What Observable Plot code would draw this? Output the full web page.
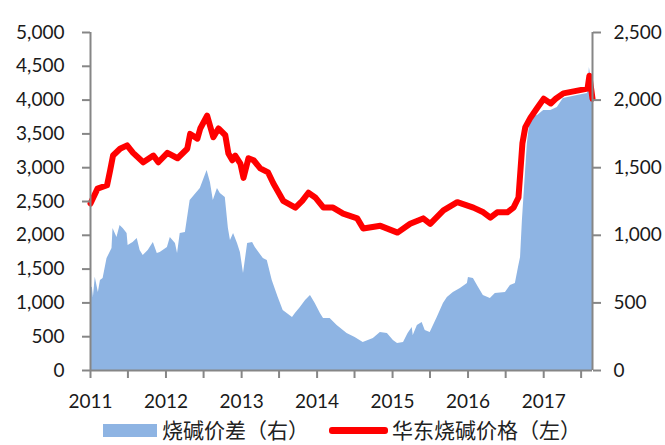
<!DOCTYPE html>
<html><head><meta charset="utf-8">
<script src="https://cdn.jsdelivr.net/npm/d3@7"></script>
<script src="https://cdn.jsdelivr.net/npm/@observablehq/plot@0.6"></script>
<style>
body{margin:0;background:#fff;}
#wrap{position:relative;width:665px;height:445px;}
#legend{position:absolute;left:0;top:413px;width:665px;height:32px;font-family:"Noto Sans CJK SC",sans-serif;font-size:21px;color:#222;}
.sw{position:absolute;}
.lt{position:absolute;top:1px;height:31px;line-height:31px;white-space:nowrap;}
</style></head><body>
<div id="wrap"><div id="chart"></div>
<div id="legend">
  <div class="sw" style="left:103px;top:11px;width:54px;height:13px;background:#8EB4E3"></div>
  <div class="lt" style="left:162px">烧碱价差（右）</div>
  <div class="sw" style="left:329px;top:14px;width:59px;height:7px;background:#FF0000;border-radius:3px"></div>
  <div class="lt" style="left:392px">华东烧碱价格（左）</div>
</div></div>
<script>
// 华东烧碱价格 (left axis)
const priceDates = ["2011-01-01","2011-02-04","2011-03-22","2011-04-06","2011-04-20","2011-05-24","2011-06-27","2011-07-26","2011-09-13","2011-11-01","2011-11-25","2012-01-08","2012-02-26","2012-04-13","2012-04-27","2012-06-01","2012-06-15","2012-07-18","2012-08-17","2012-09-11","2012-10-14","2012-10-29","2012-11-17","2012-12-01","2012-12-26","2013-01-10","2013-02-03","2013-02-28","2013-04-01","2013-05-09","2013-06-03","2013-07-21","2013-09-18","2013-10-21","2013-11-20","2013-12-23","2014-02-01","2014-03-19","2014-05-07","2014-07-14","2014-08-12","2014-11-03","2015-01-25","2015-03-27","2015-05-29","2015-07-02","2015-09-04","2015-11-10","2016-01-27","2016-03-15","2016-04-18","2016-05-21","2016-07-09","2016-08-08","2016-09-01","2016-09-20","2016-10-04","2016-10-29","2016-12-02","2017-01-01","2017-02-04","2017-02-28","2017-04-06","2017-06-13","2017-08-01","2017-08-10","2017-08-25"];
const priceValues = [2470,2690,2740,2960,3180,3280,3330,3220,3080,3180,3080,3220,3140,3280,3500,3430,3580,3770,3450,3580,3480,3210,3110,3180,3060,2850,3140,3110,2990,2930,2770,2510,2410,2510,2630,2560,2410,2410,2320,2250,2100,2140,2040,2170,2250,2170,2370,2490,2410,2340,2260,2340,2340,2410,2560,3360,3600,3740,3890,4020,3950,4020,4100,4140,4170,4360,4020];
// 烧碱价差 (right axis)
const spreadDates = ["2011-01-01","2011-01-10","2011-01-15","2011-01-24","2011-02-08","2011-02-18","2011-03-03","2011-03-22","2011-04-15","2011-04-20","2011-05-09","2011-05-24","2011-06-08","2011-06-27","2011-07-02","2011-07-26","2011-08-15","2011-08-29","2011-09-13","2011-10-07","2011-11-01","2011-11-20","2011-12-04","2012-01-08","2012-01-22","2012-02-16","2012-02-26","2012-03-10","2012-04-04","2012-04-27","2012-06-15","2012-07-18","2012-08-03","2012-08-17","2012-09-06","2012-09-20","2012-10-14","2012-10-29","2012-11-08","2012-11-23","2012-12-12","2012-12-26","2013-01-10","2013-01-30","2013-02-23","2013-03-08","2013-04-16","2013-05-05","2013-05-29","2013-06-27","2013-07-21","2013-09-04","2013-09-18","2013-10-12","2013-11-06","2013-11-30","2013-12-23","2014-01-17","2014-02-01","2014-03-05","2014-04-08","2014-05-26","2014-07-04","2014-08-12","2014-09-30","2014-11-03","2014-12-07","2015-01-05","2015-01-25","2015-02-23","2015-03-17","2015-04-06","2015-04-11","2015-05-01","2015-05-24","2015-06-08","2015-07-02","2015-08-05","2015-09-04","2015-09-23","2015-10-22","2015-11-25","2015-12-29","2016-01-03","2016-01-27","2016-02-21","2016-03-15","2016-04-18","2016-05-12","2016-06-30","2016-07-24","2016-08-17","2016-09-01","2016-09-11","2016-09-20","2016-10-14","2016-10-29","2016-12-02","2017-01-01","2017-02-04","2017-03-08","2017-04-06","2017-06-13","2017-08-01","2017-08-10","2017-08-20","2017-08-25"];
const spreadValues = [620,614,540,690,577,666,680,828,902,1050,984,1073,1050,1013,925,947,976,888,851,888,947,865,873,910,984,939,865,1013,1021,1257,1346,1479,1390,1257,1346,1309,1280,1050,962,1013,939,873,717,939,947,910,828,814,666,540,444,392,421,466,518,555,496,421,385,385,333,274,244,207,237,281,274,222,200,207,274,318,259,333,355,296,281,392,496,540,577,606,643,688,680,614,555,532,570,577,629,643,762,836,1110,1679,1871,1886,1923,1923,1945,2012,2034,2049,2241,2145,2145];
const leftTicks = [0,500,1000,1500,2000,2500,3000,3500,4000,4500,5000];
const rightTicks = [0,500,1000,1500,2000,2500];

const parse = d3.utcParse("%Y-%m-%d");
const price = priceDates.map((d,i)=>({date:parse(d), v:priceValues[i]}));
const spread = spreadDates.map((d,i)=>({date:parse(d), v:spreadValues[i]}));
const ratio = 5000/2500;
const x0 = parse("2011-01-01"), x1 = parse("2017-08-25");
const xTicks = d3.utcMonth.every(6).range(x0, parse("2017-08-01"));
const fmt = d3.format(",");
const grey = "#868686";

const chart = Plot.plot({
  width: 665, height: 413,
  marginLeft: 90, marginRight: 73, marginTop: 32, marginBottom: 43,
  style: {fontFamily: "Lato, 'Noto Sans', sans-serif", fontSize: "19px", color: "#1a1a1a", background: "#fff"},
  x: {type: "utc", domain: [x0, x1]},
  y: {domain: [0, 5000]},
  marks: [
    Plot.areaY(spread, {x: "date", y: d => d.v * ratio, fill: "#8EB4E3"}),
    Plot.lineY(price, {x: "date", y: "v", stroke: "#FF0000", strokeWidth: 6, strokeLinejoin: "round", strokeLinecap: "round"}),
    Plot.axisY(leftTicks, {anchor: "left", tickFormat: fmt, tickSize: 8, tickPadding: 18, stroke: grey, strokeWidth: 2, label: null}),
    Plot.axisY(rightTicks.map(t => t * ratio), {anchor: "right", tickFormat: d => fmt(d / ratio), tickSize: 8, tickPadding: 13, stroke: grey, strokeWidth: 2, label: null}),
    Plot.axisX(xTicks, {anchor: "bottom", tickFormat: d => d.getUTCMonth() === 0 ? String(d.getUTCFullYear()) : "", tickSize: 8, tickPadding: 16, stroke: grey, strokeWidth: 2, label: null}),
    Plot.ruleX([x0, x1], {stroke: grey, strokeWidth: 2}),
    Plot.ruleY([0], {stroke: grey, strokeWidth: 2})
  ]
});
document.getElementById("chart").appendChild(chart);
</script>
</body></html>
